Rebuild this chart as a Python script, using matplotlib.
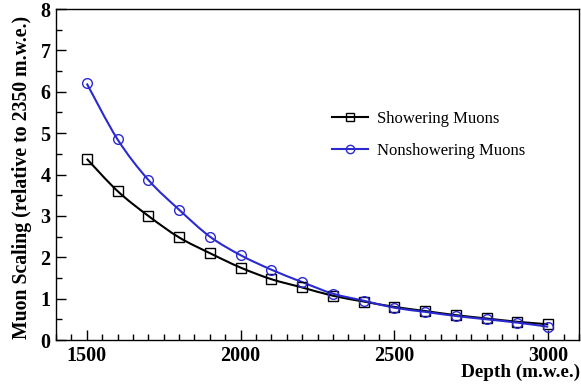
import numpy as np
import matplotlib
matplotlib.use("Agg")
import matplotlib.pyplot as plt
from matplotlib.path import Path
from matplotlib.patches import PathPatch
from matplotlib.lines import Line2D
from matplotlib.ticker import MultipleLocator

plt.rcParams["font.family"] = ["Liberation Serif", "DejaVu Serif"]

depth = [1500, 1600, 1700, 1800, 1900, 2000, 2100, 2200,
         2300, 2400, 2500, 2600, 2700, 2800, 2900, 3000]
showering = [4.38, 3.60, 3.00, 2.48, 2.10, 1.75, 1.47, 1.27,
             1.07, 0.93, 0.80, 0.70, 0.60, 0.52, 0.44, 0.38]
nonshowering = [6.20, 4.85, 3.87, 3.15, 2.50, 2.05, 1.70, 1.40,
                1.12, 0.95, 0.78, 0.68, 0.58, 0.50, 0.42, 0.32]

BLUE = "#2a2ad0"


def smooth_path(x, y):
    # Catmull-Rom through the points, drawn as cubic Bezier segments
    p = np.column_stack([x, y]).astype(float)
    verts = [p[0]]
    codes = [Path.MOVETO]
    n = len(p)
    for i in range(n - 1):
        p0 = p[max(i - 1, 0)]
        p1, p2 = p[i], p[i + 1]
        p3 = p[min(i + 2, n - 1)]
        verts += [p1 + (p2 - p0) / 6, p2 - (p3 - p1) / 6, p2]
        codes += [Path.CURVE4] * 3
    return Path(verts, codes)


fig = plt.figure(figsize=(5.81, 3.9), dpi=100)
ax = fig.add_axes([0.0964, 0.1282, 0.9002, 0.8487])

for y, c, m in [(showering, "black", "s"), (nonshowering, BLUE, "o")]:
    ax.add_patch(PathPatch(smooth_path(depth, y), facecolor="none",
                           edgecolor=c, lw=1.5))
    ax.plot(depth, y, ls="none", marker=m, ms=7, mfc="none", mec=c, mew=1.0)

ax.set_xlim(1400, 3100)
ax.set_ylim(0, 8)
ax.xaxis.set_major_locator(MultipleLocator(500))
ax.xaxis.set_minor_locator(MultipleLocator(50))
ax.yaxis.set_major_locator(MultipleLocator(1))
ax.yaxis.set_minor_locator(MultipleLocator(0.5))
ax.tick_params(which="both", direction="in", top=False, right=False)
ax.tick_params(which="major", length=7, width=1)
ax.tick_params(which="minor", length=4, width=1)
ax.tick_params(axis="both", labelsize=14.5, pad=4)
for lab in ax.get_xticklabels() + ax.get_yticklabels():
    lab.set_fontweight("bold")
for sp in ax.spines.values():
    sp.set_linewidth(1.0)

fig.text(0.038, 0.545, "Muon Scaling (relative to 2350 m.w.e.)", rotation=90,
         ha="center", va="center", fontsize=14.2, fontweight="bold")
fig.text(0.998, 0.045, "Depth (m.w.e.)", ha="right", va="center",
         fontsize=13.8, fontweight="bold")

handles = [
    Line2D([], [], color="black", lw=1.5, marker="s", ms=6, mfc="none", mew=1.0),
    Line2D([], [], color=BLUE, lw=1.5, marker="o", ms=6, mfc="none", mew=1.0),
]
ax.legend(handles, ["Showering Muons", "Nonshowering Muons"],
          loc="upper left", bbox_to_anchor=(0.527, 0.693), frameon=False,
          fontsize=12, handlelength=2.2, handletextpad=0.5, labelspacing=1.0,
          borderpad=0, borderaxespad=0)

fig.savefig("out.png", dpi=100)
